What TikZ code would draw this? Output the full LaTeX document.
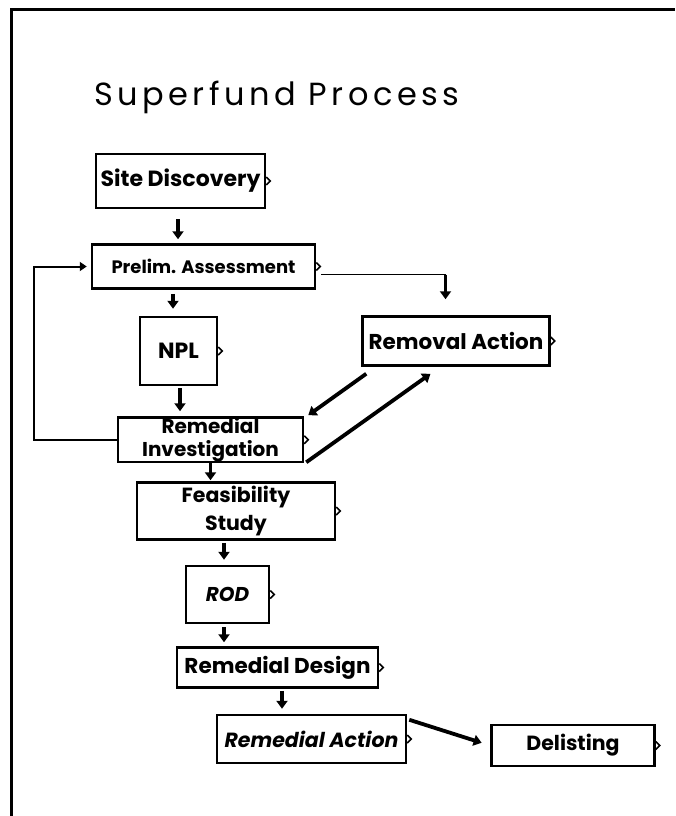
\documentclass[tikz,border=0pt]{standalone}
\usepackage{fontspec}
\setmainfont{Poppins}
\newfontfamily\titlefont{Poppins}[LetterSpace=14]
\usetikzlibrary{arrows.meta, positioning}

\newcommand{\notch}[1]{\draw[notchline] ([yshift=4pt]#1.east) -- ([xshift=4pt]#1.east) -- ([yshift=-4pt]#1.east);}

\begin{document}
\begin{tikzpicture}[
    x=1pt, y=-1pt,
    box/.style={rectangle, draw=black, line width=2.5pt, inner sep=0pt, align=center, font=\bfseries\fontsize{21}{23}\selectfont},
    flow/.style={line width=3.8pt, -{Triangle[length=8pt, width=11pt]}},
    thinflow/.style={line width=1.6pt},
    backline/.style={line width=2pt, -{Triangle[length=7pt, width=9pt]}},
    notchline/.style={line width=1.5pt},
]
    \useasboundingbox (0,0) rectangle (675,816);

    % page frame and title
    \draw[line width=3pt] (11,816) -- (11,10) -- (675,10);
    \node (title) [anchor=base west, inner sep=0pt, font=\titlefont\fontsize{32}{34}\selectfont] at (94,105) {Superfund Process};

    % Main chain
    \node (sd) [box, minimum width=169pt, minimum height=54pt, font=\bfseries\fontsize{22}{24}\selectfont] at (180.5,181) {Site Discovery};
    \node (pa) [box, minimum width=223pt, minimum height=44pt, below=34pt of sd, xshift=23pt, font=\bfseries\fontsize{18}{20}\selectfont] {Prelim. Assessment};
    \node (npl) [box, minimum width=77pt, minimum height=68pt, below=26pt of pa, xshift=-25pt, font=\bfseries\fontsize{22}{24}\selectfont] {NPL};
    \node (rem) [box, minimum width=187pt, minimum height=49pt, right=45pt of pa, yshift=-74.5pt, font=\bfseries\fontsize{21.5}{24}\selectfont] {Removal Action};
    \node (ri) [box, minimum width=185pt, minimum height=43pt, below=30pt of npl, xshift=32pt, font=\bfseries\fontsize{20}{23}\selectfont] {Remedial\\Investigation};
    \node (fs) [box, minimum width=198pt, minimum height=57pt, below=18pt of ri, xshift=25.5pt, font=\bfseries\fontsize{20.5}{28}\selectfont] {Feasibility\\Study};
    \node (rod) [box, minimum width=83pt, minimum height=57pt, below=24pt of fs, xshift=-8.5pt, font=\bfseries\itshape\fontsize{20}{22}\selectfont] {ROD};
    \node (rd) [box, minimum width=201pt, minimum height=40pt, below=22pt of rod, xshift=50pt, font=\bfseries\fontsize{21.5}{24}\selectfont] {Remedial Design};
    \node (ra) [box, minimum width=189pt, minimum height=48pt, below=25pt of rd, xshift=34pt, font=\bfseries\itshape\fontsize{20.5}{23}\selectfont] {Remedial Action};
    \node (del) [box, minimum width=163pt, minimum height=41pt, right=83pt of ra, yshift=-6.5pt, font=\bfseries\fontsize{20.5}{23}\selectfont] {Delisting};

    \foreach \n in {sd,pa,npl,rem,ri,fs,rod,rd,ra,del}
        {\notch{\n}}

    \draw [flow, shorten <=10pt, shorten >=4pt] ([xshift=-2.5pt]sd.south) -- ([xshift=-2.5pt]sd.south |- pa.north);
    \draw [flow, shorten <=4pt, shorten >=7pt] ([xshift=-5.5pt]npl.north |- pa.south) -- ([xshift=-5.5pt]npl.north);
    \draw [flow, shorten <=2pt, shorten >=5pt] ([xshift=1.5pt]npl.south) -- ([xshift=1.5pt]npl.south |- ri.north);
    \draw [flow, shorten >=1pt] (ri.south) -- (ri.south |- fs.north);
    \draw [flow, shorten <=2pt, shorten >=5pt] ([xshift=-3.5pt]rod.north |- fs.south) -- ([xshift=-3.5pt]rod.north);
    \draw [flow, shorten <=3pt, shorten >=4pt] ([xshift=-3.5pt]rod.south) -- ([xshift=-3.5pt]rod.south |- rd.north);
    \draw [flow, shorten <=2pt, shorten >=5pt] ([xshift=4.5pt]rd.south) -- ([xshift=4.5pt]rd.south |- ra.north);
    \draw [flow, shorten >=9pt] ([xshift=2pt, yshift=-6pt]ra.north east) -- (del.west);

    % to removal and back
    \coordinate (pastart) at ([xshift=5pt, yshift=-8pt]pa.east);
    \coordinate (remtop) at ([xshift=-10.5pt]rem.north);
    \coordinate (turn) at (remtop |- pastart);
    \draw [thinflow] (pastart) -- (turn);
    \draw [flow, shorten >=16pt] (turn) -- (remtop);
    \draw [flow] ([xshift=5pt, yshift=-7pt]rem.south west) -- ([xshift=4pt, yshift=1pt]ri.north east);
    \draw [flow] ([xshift=2pt, yshift=1pt]ri.south east) -- ([xshift=-25.5pt, yshift=-7pt]rem.south);

    % back to assessment
    \draw [backline, shorten >=4pt] (ri.west) -- ++(-83,0) |- (pa.west);

\end{tikzpicture}
\end{document}
